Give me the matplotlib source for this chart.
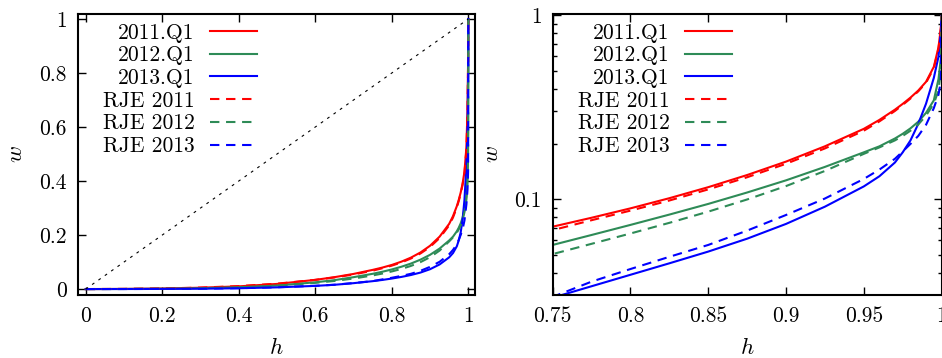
import matplotlib
matplotlib.use("Agg")
import matplotlib.pyplot as plt
from matplotlib.ticker import FixedLocator, FuncFormatter, LogLocator, NullFormatter

plt.rcParams['font.family'] = ['cmr10', 'DejaVu Serif']
plt.rcParams['mathtext.fontset'] = 'cm'
plt.rcParams['axes.unicode_minus'] = False
plt.rcParams['axes.formatter.use_mathtext'] = True

# ---- data ----
H = [0, 0.1, 0.2, 0.3, 0.4, 0.5, 0.6, 0.65, 0.7, 0.75, 0.775, 0.8, 0.825, 0.85,
     0.875, 0.9, 0.925, 0.95, 0.96, 0.97, 0.975, 0.98, 0.985, 0.99, 0.995,
     0.998, 0.9995, 1.0]

W_2011 = [0, 0.0005, 0.002, 0.005, 0.010, 0.019, 0.034, 0.044, 0.056, 0.0710, 0.0794,
          0.0893, 0.1014, 0.1164, 0.1355, 0.1603, 0.1941, 0.2415, 0.270, 0.307, 0.330,
          0.357, 0.390, 0.435, 0.525, 0.67, 0.85, 1.0]
W_2012 = [0, 0.0003, 0.0012, 0.003, 0.007, 0.013, 0.025, 0.033, 0.044, 0.0565, 0.064,
          0.0726, 0.0826, 0.0944, 0.1089, 0.1268, 0.150, 0.180, 0.194, 0.214, 0.227,
          0.243, 0.264, 0.295, 0.345, 0.45, 0.58, 1.0]
W_2013 = [0, 0.0001, 0.0005, 0.0013, 0.003, 0.0063, 0.0118, 0.0158, 0.0218, 0.0292, 0.0337,
          0.0389, 0.0449, 0.0520, 0.0611, 0.0735, 0.0912, 0.1175, 0.1334, 0.1585, 0.180,
          0.209, 0.257, 0.331, 0.457, 0.596, 0.81, 1.0]
RJE_2011 = [0, 0.0006, 0.0022, 0.0055, 0.011, 0.020, 0.034, 0.043, 0.054, 0.068, 0.0770,
            0.0868, 0.0985, 0.1132, 0.1318, 0.156, 0.189, 0.236, 0.265, 0.302, 0.326,
            0.353, 0.386, 0.430, 0.515, 0.66, 0.84, 1.0]
RJE_2012 = [0, 0.0003, 0.0012, 0.003, 0.0068, 0.0125, 0.023, 0.030, 0.039, 0.0504, 0.0573,
            0.0652, 0.0745, 0.0857, 0.0998, 0.118, 0.1426, 0.1766, 0.1914, 0.209, 0.221,
            0.236, 0.255, 0.285, 0.331, 0.39, 0.50, 1.0]
RJE_2013 = [0, 0.0001, 0.0005, 0.0014, 0.0032, 0.0066, 0.012, 0.016, 0.0222, 0.0295,
            0.0357, 0.0418, 0.0487, 0.0565, 0.0676, 0.0822, 0.101, 0.129, 0.145, 0.166,
            0.182, 0.200, 0.221, 0.254, 0.313, 0.37, 0.437, 1.0]

DIAG = [0, 1]

SERIES = [
    ("2011.Q1", W_2011, "#ff0000", "-"),
    ("2012.Q1", W_2012, "#2e8b57", "-"),
    ("2013.Q1", W_2013, "#0000ff", "-"),
    ("RJE 2011", RJE_2011, "#ff0000", "--"),
    ("RJE 2012", RJE_2012, "#2e8b57", "--"),
    ("RJE 2013", RJE_2013, "#0000ff", "--"),
]

LEFT_XTICKS = [0, 0.2, 0.4, 0.6, 0.8, 1.0]
LEFT_YTICKS = [0, 0.2, 0.4, 0.6, 0.8, 1.0]
RIGHT_XTICKS = [0.75, 0.8, 0.85, 0.9, 0.95, 1.0]
RIGHT_YTICKS = [0.1, 1.0]

FS = 15.5
fig = plt.figure(figsize=(9.42, 3.58), dpi=100)
axL = fig.add_axes([77.7 / 942, 1 - 295 / 358, (475 - 77.7) / 942, (295 - 14) / 358])
axR = fig.add_axes([552.7 / 942, 1 - 295 / 358, (941.6 - 552.7) / 942, (295 - 14) / 358])

fmt = FuncFormatter(lambda v, p: "%g" % v)


def draw(ax):
    for label, w, c, ls in SERIES:
        if ls == "--":
            ax.plot(H, w, color=c, lw=1.5, ls=(0, (4.5, 3.2)), label=label)
        else:
            ax.plot(H, w, color=c, lw=1.5, ls="-", label=label)
    for sp in ax.spines.values():
        sp.set_linewidth(1.5)
    ax.tick_params(which='both', direction='in', top=True, right=True,
                   labelsize=FS, pad=8)
    ax.tick_params(which='major', length=5.5, width=1.0)
    ax.tick_params(which='minor', length=3, width=1.0)
    ax.set_xlabel(r"$h$", fontsize=FS + 1, labelpad=8)
    ax.set_ylabel(r"$w$", fontsize=FS + 1, labelpad=9)


# Left panel
draw(axL)
axL.plot(DIAG, DIAG, color="black", lw=0.8, ls=(0, (2.5, 4.5)))
axL.set_xlim(-0.021, 1.0175)
axL.set_ylim(-0.022, 1.0185)
axL.xaxis.set_major_locator(FixedLocator(LEFT_XTICKS))
axL.yaxis.set_major_locator(FixedLocator(LEFT_YTICKS))
axL.xaxis.set_major_formatter(fmt)
axL.yaxis.set_major_formatter(fmt)

# Right panel
draw(axR)
axR.set_yscale('log')
axR.set_xlim(0.75, 1.0)
axR.set_ylim(0.0302, 1.016)
axR.xaxis.set_major_locator(FixedLocator(RIGHT_XTICKS))
axR.yaxis.set_major_locator(FixedLocator(RIGHT_YTICKS))
axR.yaxis.set_minor_locator(LogLocator(base=10, subs=[2, 3, 4, 5, 6, 7, 8, 9]))
axR.yaxis.set_minor_formatter(NullFormatter())
axR.xaxis.set_major_formatter(fmt)
axR.yaxis.set_major_formatter(fmt)

for ax, xr in ((axL, (257 - 77.7) / 397.3), (axR, (732 - 552.7) / 389)):
    ax.legend(loc='upper right', bbox_to_anchor=(xr, 0.968), frameon=False,
              markerfirst=False, fontsize=FS, handlelength=2.2,
              handletextpad=0.7, labelspacing=0.15, borderpad=0,
              borderaxespad=0)

fig.savefig("out.png", dpi=100)
